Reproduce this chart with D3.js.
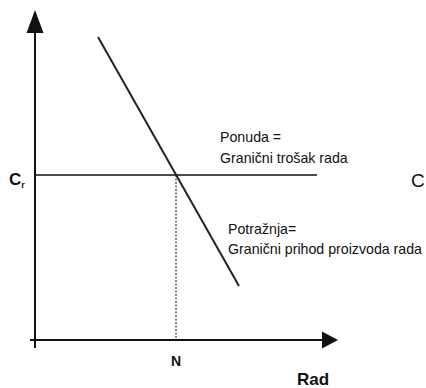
<!DOCTYPE html>
<html>
<head>
<meta charset="utf-8">
<script src="https://cdn.jsdelivr.net/npm/d3@7"></script>
<style>
  body { margin: 0; background: #fff; }
  text { font-family: "Liberation Sans", Arial, sans-serif; fill: #111; }
</style>
</head>
<body>
<div id="chart"></div>
<script>
// values (data units)
const axisMax = {x: 101, y: 110};
const wageLevel = 55;              // C_r
const supplyX = [0, 94];           // horizontal supply line
const demandPts = [[21, 101], [68, 18]];
const equilibriumN = 47;
const supplyLabel = ["Ponuda =", "Granični trošak rada"];
const demandLabel = ["Potražnja=", "Granični prihod proizvoda rada"];

const width = 426, height = 388;

const svg = d3.select("#chart").append("svg")
    .attr("width", width)
    .attr("height", height);

const x = d3.scaleLinear().domain([0, 100]).range([35, 335]);
const y = d3.scaleLinear().domain([0, 100]).range([340, 40]);

// axes
svg.append("line")
    .attr("x1", x(0)).attr("x2", x(0))
    .attr("y1", y(0) + 8).attr("y2", y(axisMax.y) + 20)
    .attr("stroke", "#111").attr("stroke-width", 2);
svg.append("path")
    .attr("d", "M" + x(0) + "," + y(axisMax.y) + "L" + (x(0) - 8.5) + "," + (y(axisMax.y) + 23) +
        "L" + (x(0) + 8.5) + "," + (y(axisMax.y) + 23) + "Z")
    .attr("fill", "#111");

svg.append("line")
    .attr("x1", x(0) - 5).attr("x2", x(axisMax.x) - 12)
    .attr("y1", y(0)).attr("y2", y(0))
    .attr("stroke", "#111").attr("stroke-width", 2);
svg.append("path")
    .attr("d", "M" + x(axisMax.x) + "," + y(0) + "L" + (x(axisMax.x) - 16) + "," + (y(0) - 8.5) +
        "L" + (x(axisMax.x) - 16) + "," + (y(0) + 8.5) + "Z")
    .attr("fill", "#111");

// supply (horizontal wage line)
svg.append("line")
    .attr("x1", x(supplyX[0])).attr("x2", x(supplyX[1]))
    .attr("y1", y(wageLevel)).attr("y2", y(wageLevel))
    .attr("stroke", "#111").attr("stroke-width", 1.6);

// demand
svg.append("path")
    .datum(demandPts)
    .attr("d", d3.line().x(d => x(d[0])).y(d => y(d[1])))
    .attr("fill", "none")
    .attr("stroke", "#222").attr("stroke-width", 2);

// dotted drop line
svg.append("line")
    .attr("x1", x(equilibriumN)).attr("x2", x(equilibriumN))
    .attr("y1", y(wageLevel)).attr("y2", y(0))
    .attr("stroke", "#111").attr("stroke-width", 1)
    .attr("stroke-dasharray", "2,1.5");

// labels
const cr = svg.append("text")
    .attr("x", 9).attr("y", y(wageLevel) + 10)
    .style("font-size", "17px").style("font-weight", "bold");
cr.append("tspan").text("C");
cr.append("tspan").attr("dy", 3).style("font-size", "9px").text("r");

svg.append("text")
    .attr("x", 411).attr("y", y(wageLevel) + 12)
    .style("font-size", "19px")
    .text("C");

svg.selectAll(".supplyLbl").data(supplyLabel).join("text")
    .attr("x", 220).attr("y", (d, i) => 142 + i * 21)
    .style("font-size", "14.2px")
    .text(d => d);

svg.selectAll(".demandLbl").data(demandLabel).join("text")
    .attr("x", 228).attr("y", (d, i) => 234 + i * 20)
    .style("font-size", "14.2px")
    .text(d => d);

svg.append("text")
    .attr("x", x(equilibriumN)).attr("y", 366)
    .attr("text-anchor", "middle")
    .style("font-size", "14px").style("font-weight", "bold")
    .text("N");

svg.append("text")
    .attr("x", 297).attr("y", 385)
    .style("font-size", "17px").style("font-weight", "bold")
    .text("Rad");
</script>
</body>
</html>
